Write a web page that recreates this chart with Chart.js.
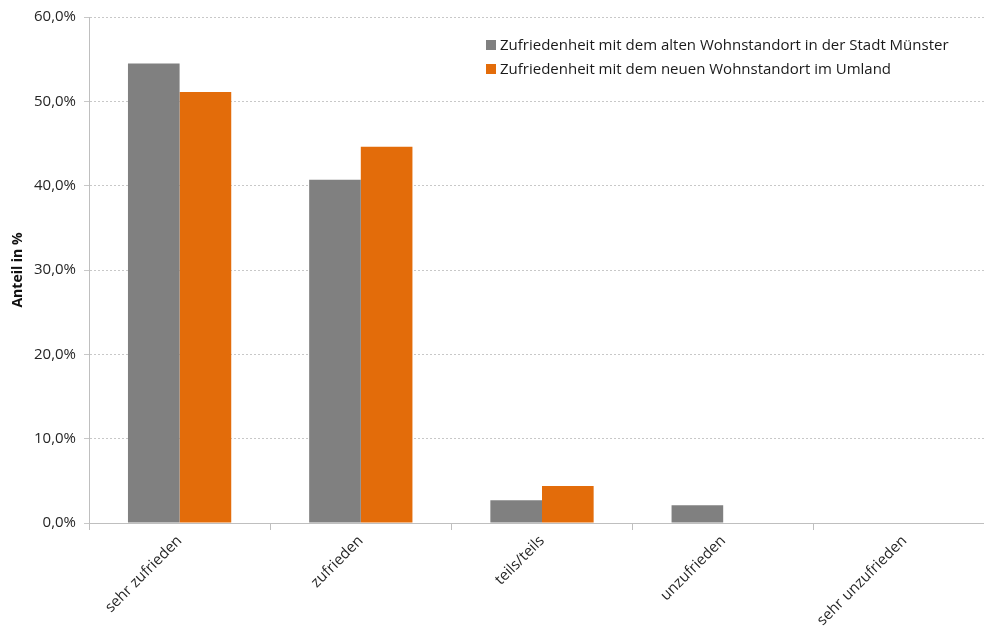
<!DOCTYPE html>
<html>
<head>
<meta charset="utf-8">
<script src="https://cdn.jsdelivr.net/npm/chart.js@4"></script>
<style>
  html, body { margin: 0; padding: 0; background: #fff; overflow: hidden; }
  #wrap { position: relative; width: 1000px; height: 630px; }
  #legend { position: absolute; left: 486px; top: 33px; font-family: "Open Sans", sans-serif; font-size: 15px; color: #1a1a1a; }
  #legend div { height: 24px; line-height: 22px; white-space: nowrap; }
  #legend span.box { display: inline-block; width: 10px; height: 10px; margin-right: 4px; vertical-align: 0px; }
</style>
</head>
<body>
<div id="wrap">
  <canvas id="c" width="1000" height="630"></canvas>
  <div id="legend"></div>
</div>
<script>
const categories = ['sehr zufrieden', 'zufrieden', 'teils/teils', 'unzufrieden', 'sehr unzufrieden'];
const seriesNames = [
  'Zufriedenheit mit dem alten Wohnstandort in der Stadt Münster',
  'Zufriedenheit mit dem neuen Wohnstandort im Umland'
];
const altValues = [54.5, 40.7, 2.7, 2.1, 0];
const neuValues = [51.1, 44.6, 4.4, 0, 0];
const colors = ['#808080', '#E36C0A'];

const ctx = document.getElementById('c').getContext('2d');
new Chart(ctx, {
  type: 'bar',
  data: {
    labels: categories,
    datasets: [
      { label: seriesNames[0], data: altValues, backgroundColor: colors[0] },
      { label: seriesNames[1], data: neuValues, backgroundColor: colors[1] }
    ]
  },
  options: {
    responsive: false,
    animation: false,
    datasets: { bar: { categoryPercentage: 0.57, barPercentage: 1.0 } },
    layout: { padding: { top: 17, right: 5, left: 0, bottom: 0 } },
    plugins: { legend: { display: false }, tooltip: { enabled: false } },
    scales: {
      x: {
        grid: { drawOnChartArea: false, drawTicks: true, tickLength: 7, color: '#bfbfbf' },
        border: { color: '#bfbfbf' },
        ticks: {
          autoSkip: false, maxRotation: 45, minRotation: 45,
          color: '#262626', font: { family: 'Open Sans', size: 15 }, padding: 2
        },
        afterFit: s => { s.height = 107; }
      },
      y: {
        min: 0, max: 60,
        grid: { color: '#c8c8c8', tickLength: 5 },
        border: { color: '#bfbfbf', dash: [2, 2] },
        ticks: {
          stepSize: 10, color: '#262626', padding: 8,
          font: { family: 'Open Sans', size: 15 },
          callback: v => v.toFixed(1).replace('.', ',') + '%'
        },
        title: {
          display: true, text: 'Anteil in %', color: '#111',
          padding: { top: 10, bottom: 0 },
          font: { family: 'Open Sans', size: 14, weight: 'bold' }
        },
        afterFit: s => { s.width = 89; }
      }
    }
  }
});

// Legende oben rechts
const legend = document.getElementById('legend');
seriesNames.forEach((name, i) => {
  const row = document.createElement('div');
  row.innerHTML = '<span class="box" style="background:' + colors[i] + '"></span>' + name;
  legend.appendChild(row);
});
</script>
</body>
</html>
